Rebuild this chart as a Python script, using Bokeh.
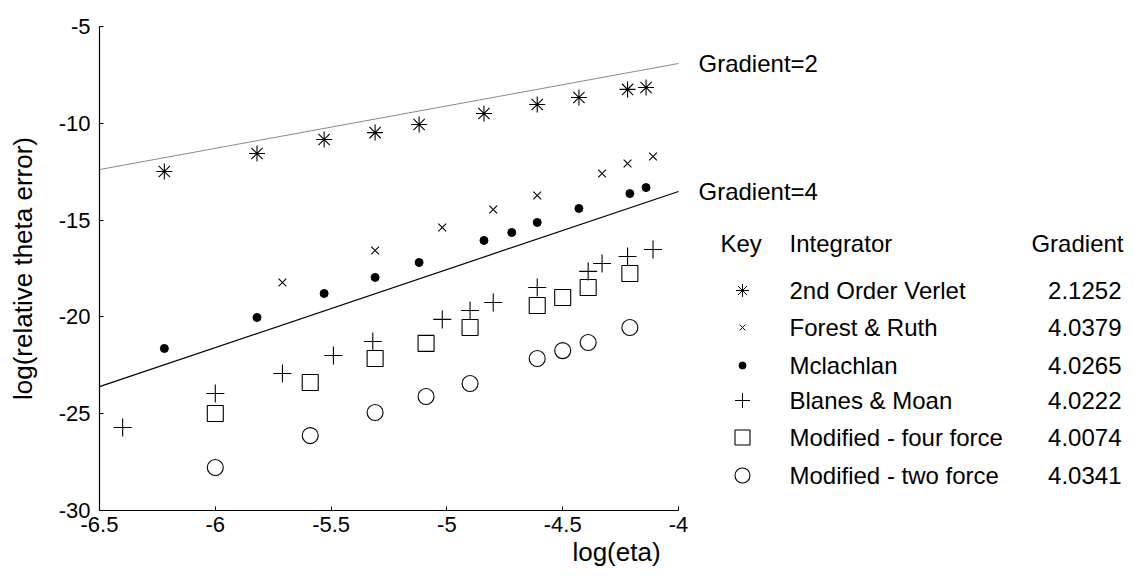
from bokeh.plotting import figure
from bokeh.models import Range1d, FixedTicker
from bokeh.core.properties import value
from bokeh.embed import file_html
from bokeh.resources import INLINE

# ---------------- data ----------------
verlet_x = [-6.22, -5.82, -5.53, -5.31, -5.12, -4.84, -4.61, -4.43, -4.22, -4.14]
verlet_y = [-12.49, -11.56, -10.84, -10.48, -10.06, -9.49, -9.03, -8.67, -8.25, -8.15]

forest_x = [-5.71, -5.31, -5.02, -4.80, -4.61, -4.33, -4.22, -4.11]
forest_y = [-18.22, -16.57, -15.38, -14.45, -13.73, -12.59, -12.08, -11.71]

mcl_x = [-6.22, -5.82, -5.53, -5.31, -5.12, -4.84, -4.72, -4.61, -4.43, -4.21, -4.14]
mcl_y = [-21.63, -20.03, -18.79, -17.96, -17.19, -16.05, -15.64, -15.12, -14.40, -13.63, -13.32]

blanes_x = [-6.40, -6.00, -5.71, -5.49, -5.32, -5.02, -4.90, -4.80, -4.61, -4.39, -4.33, -4.22, -4.11]
blanes_y = [-25.71, -23.96, -22.92, -21.99, -21.27, -20.13, -19.67, -19.26, -18.48, -17.65, -17.24, -16.88, -16.52]

four_x = [-6.00, -5.59, -5.31, -5.09, -4.90, -4.61, -4.50, -4.39, -4.21]
four_y = [-24.99, -23.39, -22.15, -21.37, -20.55, -19.41, -19.00, -18.48, -17.76]

two_x = [-6.00, -5.59, -5.31, -5.09, -4.90, -4.61, -4.50, -4.39, -4.21]
two_y = [-27.78, -26.13, -24.94, -24.11, -23.44, -22.15, -21.74, -21.32, -20.55]

ref_line_x = [-6.5, -4.0]
grad2_y = [-12.39, -6.91]
grad4_y = [-23.60, -13.52]
ref_labels = ["Gradient=2", "Gradient=4"]

x_ticks = [-6.5, -6.0, -5.5, -5.0, -4.5, -4.0]
x_tick_labels = ["-6.5", "-6", "-5.5", "-5", "-4.5", "-4"]
y_ticks = [-30, -25, -20, -15, -10, -5]
y_tick_labels = ["-30", "-25", "-20", "-15", "-10", "-5"]

key_header = ["Key", "Integrator", "Gradient"]
integrators = ["2nd Order Verlet", "Forest & Ruth", "Mclachlan", "Blanes & Moan",
               "Modified - four force", "Modified - two force"]
gradients = ["2.1252", "4.0379", "4.0265", "4.0222", "4.0074", "4.0341"]

# ---------------- layout ----------------
W, H = 1133, 576
LEFT, TOP, BOTTOM = 99, 26, 66
PX_PER_X = 231.6
X0, Y0, Y1 = -6.5, -30, -5
frame_w = W - LEFT
frame_h = H - TOP - BOTTOM
PX_PER_Y = frame_h / (Y1 - Y0)
X1 = X0 + frame_w / PX_PER_X
FONT = value("Liberation Sans")
TXT = "24px"


def dx(page_px):
    return X0 + (page_px - LEFT) / PX_PER_X


def dy(page_py):
    return Y1 - (page_py - TOP) / PX_PER_Y


p = figure(width=W, height=H, output_backend="svg", toolbar_location=None,
           x_range=Range1d(X0, X1), y_range=Range1d(Y0, Y1),
           min_border_left=LEFT, min_border_right=0, min_border_top=TOP,
           min_border_bottom=BOTTOM)
p.outline_line_color = None
p.grid.visible = False
p.background_fill_color = "white"

p.xaxis.bounds = (x_ticks[0], x_ticks[-1])
p.xaxis.ticker = FixedTicker(ticks=x_ticks)
p.yaxis.ticker = FixedTicker(ticks=y_ticks)
p.xaxis.major_label_overrides = {t: s for t, s in zip(x_ticks, x_tick_labels)}
p.yaxis.major_label_overrides = {t: s for t, s in zip(y_ticks, y_tick_labels)}
for ax in (p.xaxis[0], p.yaxis[0]):
    ax.axis_line_color = "black"
    ax.axis_line_width = 1.2
    ax.major_tick_in = 4
    ax.major_tick_out = 0
    ax.minor_tick_in = 0
    ax.minor_tick_out = 0
    ax.major_tick_line_color = "black"
    ax.major_label_text_font = "Liberation Sans"
    ax.major_label_text_font_size = "22px"
    ax.major_label_text_color = "black"
    ax.axis_label_text_font = "Liberation Sans"
    ax.axis_label_text_font_size = "26px"
    ax.axis_label_text_font_style = "normal"
    ax.axis_label_text_color = "black"
p.xaxis.axis_label = "log(eta)"
p.yaxis.axis_label = "log(relative theta error)"
p.xaxis.major_label_standoff = 6
p.xaxis.axis_label_standoff = 2
p.yaxis.major_label_standoff = 9
p.yaxis.axis_label_standoff = 18

# reference lines
p.line(ref_line_x, grad2_y, line_color="#8a8a8a", line_width=1)
p.line(ref_line_x, grad4_y, line_color="black", line_width=1.2)
lab_off = 20 / PX_PER_X
p.text(x=[ref_line_x[-1] + lab_off] * 2, y=[grad2_y[-1], grad4_y[-1]], text=ref_labels,
       text_font=FONT, text_font_size=TXT, text_baseline="middle",
       text_align="left", text_color="black")

# series
styles = [
    dict(marker="asterisk", size=16, line_color="black", line_width=1.1),
    dict(marker="x", size=11, line_color="black", line_width=1.1),
    dict(marker="circle", size=8, line_color="black", fill_color="black"),
    dict(marker="cross", size=18, line_color="black", line_width=1.1),
    dict(marker="square", size=16, line_color="black", fill_color=None, line_width=1.1),
    dict(marker="circle", size=16, line_color="black", fill_color=None, line_width=1.1),
]
series = [(verlet_x, verlet_y), (forest_x, forest_y), (mcl_x, mcl_y),
          (blanes_x, blanes_y), (four_x, four_y), (two_x, two_y)]
for (xs, ys), st in zip(series, styles):
    p.scatter(xs, ys, **st)

# key table
head_y = dy(243)
p.text(x=[dx(720), dx(789)], y=[head_y, head_y], text=key_header[:2],
       text_font=FONT, text_font_size=TXT, text_baseline="middle", text_align="left")
p.text(x=[dx(1123)], y=[head_y], text=key_header[2:],
       text_font=FONT, text_font_size=TXT, text_baseline="middle", text_align="right")
row_py = [290, 327, 365, 400, 437, 475]
legend_styles = [
    dict(marker="asterisk", size=13, line_color="black", line_width=1.0),
    dict(marker="x", size=8, line_color="black", line_width=1.0),
    dict(marker="circle", size=7, line_color="black", fill_color="black"),
    dict(marker="cross", size=15, line_color="black", line_width=1.0),
    dict(marker="square", size=15, line_color="black", fill_color=None, line_width=1.1),
    dict(marker="circle", size=15, line_color="black", fill_color=None, line_width=1.1),
]
for py, st in zip(row_py, legend_styles):
    p.scatter([dx(742)], [dy(py)], **st)
p.text(x=[dx(789)] * len(integrators), y=[dy(v) for v in row_py], text=integrators,
       text_font=FONT, text_font_size=TXT, text_baseline="middle", text_align="left")
p.text(x=[dx(1121)] * len(gradients), y=[dy(v) for v in row_py], text=gradients,
       text_font=FONT, text_font_size=TXT, text_baseline="middle", text_align="right")

open("out.html", "w").write(file_html(p, INLINE))
